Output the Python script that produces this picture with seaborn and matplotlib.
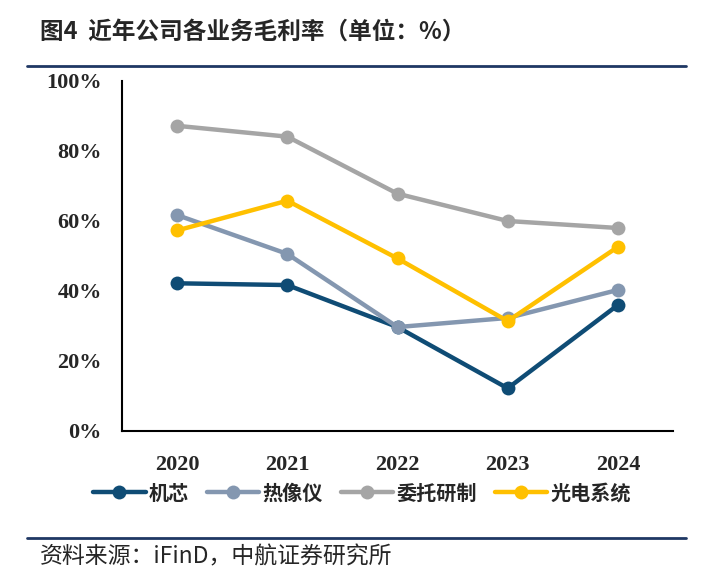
import pandas as pd
import matplotlib.pyplot as plt
import seaborn as sns
from matplotlib.ticker import FixedLocator, FuncFormatter

years = ["2020", "2021", "2022", "2023", "2024"]
jixin = [42.2, 41.7, 29.7, 12.2, 36.0]
rexiangyi = [61.7, 50.6, 29.7, 32.3, 40.3]
weituo = [87.2, 84.1, 67.8, 60.0, 58.0]
guangdian = [57.3, 65.8, 49.3, 31.4, 52.6]
series = ["机芯", "热像仪", "委托研制", "光电系统"]
colors = ["#0F4C75", "#8497B0", "#A5A5A5", "#FFC000"]

df = pd.DataFrame({"年份": years * 4,
                   "业务": sum([[s] * 5 for s in series], []),
                   "毛利率": jixin + rexiangyi + weituo + guangdian})

sns.set_style("white")
plt.rcParams['font.family'] = ['Liberation Serif', 'Noto Sans CJK SC', 'DejaVu Sans']

fig = plt.figure(figsize=(7.27, 5.83), dpi=100)
ax = fig.add_axes([122 / 727, 1 - 431 / 583, 551 / 727, 350 / 583])

sns.lineplot(data=df, x="年份", y="毛利率", hue="业务", hue_order=series,
             palette=colors, marker="o", markersize=10, linewidth=3.2,
             markeredgewidth=0, sort=False, ax=ax)

ax.set_xlim(-0.5, 4.5)
ax.set_ylim(0, 100)
ax.set_yticks([0, 20, 40, 60, 80, 100])
ax.yaxis.set_major_formatter(FuncFormatter(lambda v, p: f"{int(v)}%"))
ax.xaxis.set_minor_locator(FixedLocator([0.5, 1.5, 2.5, 3.5, 4.5]))
ax.tick_params(axis="x", which="major", length=0, pad=17)
ax.tick_params(axis="x", which="minor", direction="in", length=6, width=1.5, color="black")
ax.tick_params(axis="y", direction="out", length=3.5, width=1.5, color="black", pad=11)
for lab in ax.get_xticklabels() + ax.get_yticklabels():
    lab.set_fontweight("bold")
    lab.set_fontsize(16)
ax.set_xlabel("")
ax.set_ylabel("")
sns.despine(ax=ax)
for s in ["left", "bottom"]:
    ax.spines[s].set_color("black")
    ax.spines[s].set_linewidth(1.5)

handles, labels = ax.get_legend_handles_labels()
ax.legend(handles, labels, loc="center", bbox_to_anchor=(362 / 727, 1 - 493 / 583),
          bbox_transform=fig.transFigure, ncol=4, frameon=False, handlelength=2.6,
          handletextpad=0.15, columnspacing=0.9,
          prop={"family": ["Noto Sans CJK SC"], "weight": "bold", "size": 14.5})

fig.text(40 / 727, 1 - 32 / 583, "图4  近年公司各业务毛利率（单位：%）",
         fontsize=17, fontweight="bold", va="center", ha="left",
         family=["Noto Sans CJK SC", "DejaVu Sans"])
fig.add_artist(plt.Line2D([27 / 727, 686 / 727], [1 - 66 / 583, 1 - 66 / 583],
                          color="#1F3864", linewidth=2))
fig.add_artist(plt.Line2D([27 / 727, 686 / 727], [1 - 538 / 583, 1 - 538 / 583],
                          color="#1F3864", linewidth=2))
fig.text(40 / 727, 1 - 557 / 583, "资料来源：iFinD，中航证券研究所",
         fontsize=16.5, va="center", ha="left",
         family=["Noto Sans CJK SC", "DejaVu Sans"])

fig.savefig("out.png", dpi=100)
